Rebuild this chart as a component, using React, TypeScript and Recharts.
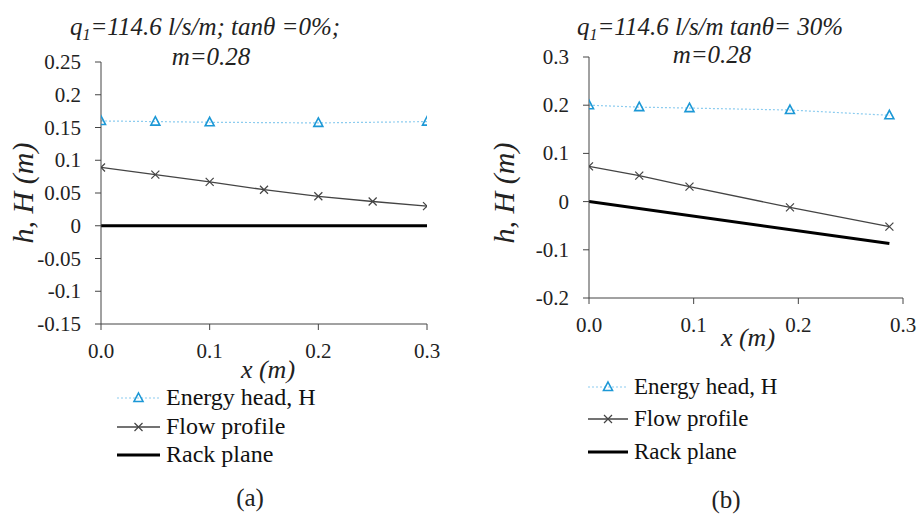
import React from "react";
import { LineChart, Line, XAxis, YAxis } from "recharts";

// panel (a): tanθ = 0%
const xA_energy = [0, 0.05, 0.1, 0.2, 0.3];
const hA_energy = [0.16, 0.159, 0.158, 0.157, 0.159];
const xA_flow = [0, 0.05, 0.1, 0.15, 0.2, 0.25, 0.3];
const hA_flow = [0.089, 0.078, 0.067, 0.055, 0.045, 0.037, 0.03];
const xA_rack = [0, 0.3];
const hA_rack = [0, 0];
const yTicksA = [-0.15, -0.1, -0.05, 0, 0.05, 0.1, 0.15, 0.2, 0.25];

// panel (b): tanθ = 30%
const xB_points = [0, 0.048, 0.096, 0.192, 0.287];
const hB_energy = [0.2, 0.196, 0.194, 0.19, 0.179];
const hB_flow = [0.073, 0.054, 0.031, -0.012, -0.052];
const xB_rack = [0, 0.287];
const hB_rack = [0, -0.087];
const yTicksB = [-0.2, -0.1, 0, 0.1, 0.2, 0.3];

const xTicks = [0, 0.1, 0.2, 0.3];
const legendNames = ["Energy head, H", "Flow profile", "Rack plane"];
const captions = ["(a)", "(b)"];

const fontCss = `
@font-face { font-family: 'RefSerif'; font-style: normal; font-weight: 400;
  src: local('Liberation Serif'), local('LiberationSerif'), local('Times New Roman'), local('Tinos'); }
@font-face { font-family: 'RefSerif'; font-style: italic; font-weight: 400;
  src: local('Liberation Serif Italic'), local('LiberationSerif-Italic'), local('Times New Roman Italic'), local('Tinos Italic'), local('Tinos-Italic'); }
`;

const FONT = "'Liberation Serif', RefSerif, 'Times New Roman', serif";
const BLUE = "#1c98d6";
const LIGHT_BLUE = "#8cccef";
const GREY = "#444";

const serif = { fontFamily: FONT };
const serifItalic = { fontFamily: FONT, fontStyle: "italic" };

const zip = (xs: number[], ys: number[]) => xs.map((x, i) => ({ x, y: ys[i] }));

const Triangle = (props: any) => {
  const { cx, cy, index } = props;
  if (cx == null || cy == null) return <g key={`t${index}`} />;
  return (
    <path
      key={`t${index}`}
      d={`M${cx},${cy - 5} L${cx + 4.5},${cy + 3.5} L${cx - 4.5},${cy + 3.5} Z`}
      fill="none"
      stroke={BLUE}
      strokeWidth={1.6}
    />
  );
};

const Cross = (props: any) => {
  const { cx, cy, index } = props;
  if (cx == null || cy == null) return <g key={`c${index}`} />;
  return (
    <path
      key={`c${index}`}
      d={`M${cx - 4},${cy - 4} L${cx + 4},${cy + 4} M${cx - 4},${cy + 4} L${cx + 4},${cy - 4}`}
      stroke={GREY}
      strokeWidth={1.2}
    />
  );
};

const fmtY = (v: number) => String(Number(v.toFixed(2)));
const fmtX = (v: number) => v.toFixed(1);

const XTick = (props: any) => {
  const { x, y, payload } = props;
  return (
    <text x={x} y={y} dy={14} textAnchor="middle" fontSize={21} fill="#222" style={serif}>
      {fmtX(payload.value)}
    </text>
  );
};

const YTick = (props: any) => {
  const { x, y, payload } = props;
  return (
    <text x={x} y={y} dy={7} textAnchor="end" fontSize={21} fill="#222" style={serif}>
      {fmtY(payload.value)}
    </text>
  );
};

interface PanelProps {
  left: number;
  width: number;
  margin: { top: number; right: number; bottom: number; left: number };
  yDomain: [number, number];
  yTicks: number[];
  energy: { x: number; y: number }[];
  flow: { x: number; y: number }[];
  rack: { x: number; y: number }[];
}

const Panel: React.FC<PanelProps> = ({ left, width, margin, yDomain, yTicks, energy, flow, rack }) => (
  <div style={{ position: "absolute", left, top: 0 }}>
    <LineChart width={width} height={518} margin={margin}>
      <XAxis
        type="number"
        dataKey="x"
        domain={[0, 0.3]}
        ticks={xTicks}
        stroke={GREY}
        tickSize={6}
        tickMargin={14}
        height={30}
        tick={<XTick />}
        allowDataOverflow
      />
      <YAxis
        type="number"
        dataKey="y"
        domain={yDomain}
        ticks={yTicks}
        stroke={GREY}
        tickSize={6}
        tickMargin={14}
        width={60}
        tick={<YTick />}
        allowDataOverflow
      />
      <Line data={rack} dataKey="y" stroke="#000" strokeWidth={3} dot={false} isAnimationActive={false} />
      <Line data={flow} dataKey="y" stroke={GREY} strokeWidth={1.3} dot={Cross} isAnimationActive={false} />
      <Line
        data={energy}
        dataKey="y"
        stroke={LIGHT_BLUE}
        strokeWidth={1.2}
        strokeDasharray="2 2"
        dot={Triangle}
        isAnimationActive={false}
      />
    </LineChart>
  </div>
);

const LegendBlock: React.FC<{ x: number; ys: number[]; len: number; size: number }> = ({ x, ys, len, size }) => (
  <g>
    {legendNames.map((name, i) => {
      const y = ys[i];
      const mid = x + len / 2;
      return (
        <g key={name}>
          {i === 0 && (
            <>
              <line x1={x} x2={x + len} y1={y} y2={y} stroke={LIGHT_BLUE} strokeWidth={1.2} strokeDasharray="2 2" />
              <Triangle cx={mid} cy={y} index={i} />
            </>
          )}
          {i === 1 && (
            <>
              <line x1={x} x2={x + len} y1={y} y2={y} stroke={GREY} strokeWidth={1.3} />
              <Cross cx={mid} cy={y} index={i} />
            </>
          )}
          {i === 2 && <line x1={x} x2={x + len} y1={y} y2={y} stroke="#000" strokeWidth={3} />}
          <text x={x + len + 6} y={y} dy={7} fontSize={size} fill="#111" style={serif}>
            {name}
          </text>
        </g>
      );
    })}
  </g>
);

const Title: React.FC<{ cx: number; y: number; rest: string }> = ({ cx, y, rest }) => (
  <text x={cx} y={y} textAnchor="middle" fontSize={25} fill="#222" style={serifItalic}>
    q<tspan fontSize={16} dy={5}>1</tspan>
    <tspan dy={-5}>{rest}</tspan>
  </text>
);

const Annotations: React.FC = () => (
  <svg width={919} height={518} style={{ position: "absolute", left: 0, top: 0, pointerEvents: "none" }}>
    <Title cx={205} y={35} rest="=114.6 l/s/m; tanθ =0%;" />
    <text x={211} y={65} textAnchor="middle" fontSize={25} fill="#222" style={serifItalic}>
      m=0.28
    </text>
    <Title cx={710} y={35} rest="=114.6 l/s/m tanθ= 30%" />
    <text x={712} y={63} textAnchor="middle" fontSize={25} fill="#222" style={serifItalic}>
      m=0.28
    </text>

    <text transform="translate(33,193) rotate(-90)" textAnchor="middle" fontSize={30} fill="#222" style={serifItalic}>
      h, H (m)
    </text>
    <text transform="translate(514,193) rotate(-90)" textAnchor="middle" fontSize={30} fill="#222" style={serifItalic}>
      h, H (m)
    </text>

    <text x={268} y={378} textAnchor="middle" fontSize={26} fill="#222" style={serifItalic}>
      x (m)
    </text>
    <text x={748} y={346} textAnchor="middle" fontSize={26} fill="#222" style={serifItalic}>
      x (m)
    </text>

    <LegendBlock x={117} ys={[398, 427, 455]} len={43} size={24} />
    <LegendBlock x={588} ys={[387, 419, 452]} len={40} size={23} />
  </svg>
);

export default function App() {
  return (
    <div style={{ position: "absolute", left: 0, top: 0, width: 919, height: 518, background: "#fff", fontFamily: FONT }}>
      <style>{fontCss}</style>
      {/* captions as html text, placed first */}
      <div style={{ position: "absolute", left: 220, top: 483, width: 60, textAlign: "center", fontSize: 25, lineHeight: "30px", color: "#222", fontFamily: "Liberation Serif" }}>
        {captions[0]}
      </div>
      <div style={{ position: "absolute", left: 696, top: 485, width: 60, textAlign: "center", fontSize: 25, lineHeight: "30px", color: "#222", fontFamily: "Liberation Serif" }}>
        {captions[1]}
      </div>
      <Panel
        left={0}
        width={460}
        margin={{ top: 62, right: 33, bottom: 164, left: 41 }}
        yDomain={[-0.15, 0.25]}
        yTicks={yTicksA}
        energy={zip(xA_energy, hA_energy)}
        flow={zip(xA_flow, hA_flow)}
        rack={zip(xA_rack, hA_rack)}
      />
      <Panel
        left={460}
        width={459}
        margin={{ top: 57, right: 16, bottom: 190, left: 69 }}
        yDomain={[-0.2, 0.3]}
        yTicks={yTicksB}
        energy={zip(xB_points, hB_energy)}
        flow={zip(xB_points, hB_flow)}
        rack={zip(xB_rack, hB_rack)}
      />
      <Annotations />
    </div>
  );
}
